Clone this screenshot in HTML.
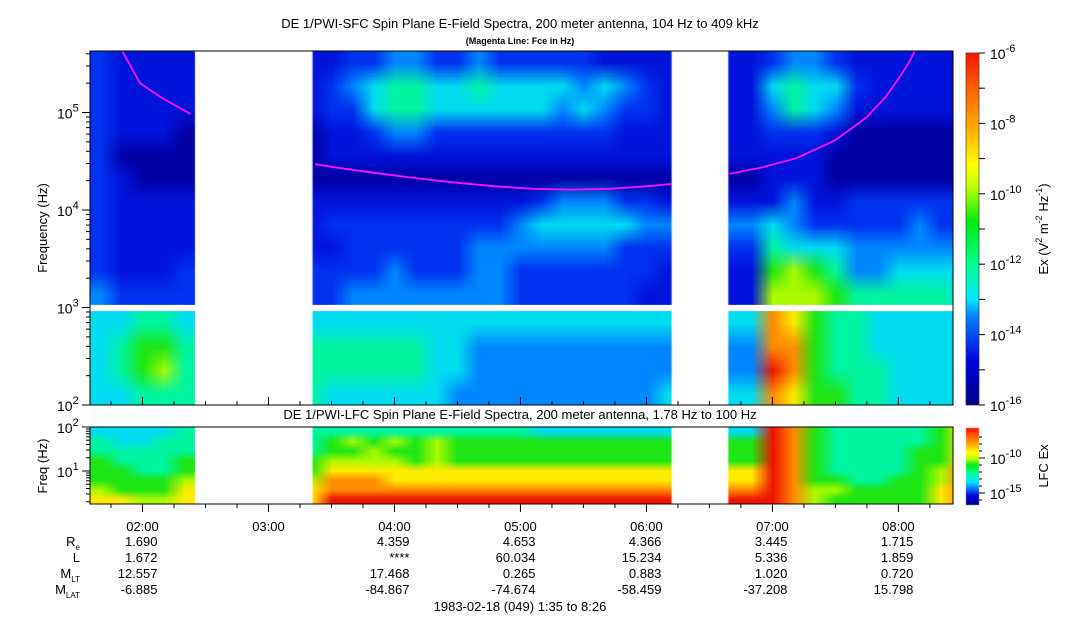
<!DOCTYPE html>
<html><head><meta charset="utf-8">
<style>
body{margin:0;background:#fff;width:1083px;height:620px;overflow:hidden;position:relative;font-family:"Liberation Sans",sans-serif;}
canvas{position:absolute;left:0;top:0;}
svg{position:absolute;left:0;top:0;}
</style></head>
<body>
<canvas id="cv" width="1083" height="620"></canvas>
<svg id="sv" width="1083" height="620" font-family="Liberation Sans, sans-serif"></svg>
<script>
// ---- data ----
const timeStart = 1 + 35/60, timeEnd = 8 + 26/60;
const colMinutes = 10;
// SFC upper rows (409 kHz -> 1 kHz), 41 columns of 10 min, '.' = data gap
const sfcUpper = [
"21111......12233223222221111....23321111112",
"21111......23455445444434321....45442111112",
"21111......22455444444343221....35431111112",
"21110......11233222222222111....22210000003",
"20000......11111111111111111....11100000003",
"21000......00000000000000000....11100000004",
"21111......11111111112333221....13112222225",
"21111......22222222234444433....43222223226",
"21111......12222223333333222....54443333336",
"21112......22232223322222221....67653344446",
"32222......23333333322222211....77765555547"
];
// SFC lower rows (1 kHz -> 100 Hz)
const sfcLower = [
"44554......44444444444444444....98655444445",
"45665......55555443333333333....99655444446",
"45675......55555443333333333....a9655544446",
"44555......44444433333333334....98665544446"
];
// LFC rows (100 Hz -> 1.78 Hz)
const lfcRows = [
"44445......55555555554444444....a965555568",
"54455......67676766666666666....a965555568",
"55555......66766766666666666....a965555668",
"65556......77776766666666666....a965555668",
"66556......88888888888888888....a965555679",
"66667......99988888888888888....a966556679",
"76668......99999999999999999....a977666689",
"88778......aaaaaaaaaaaaaaaaa....a976666689"
];
const gapStarts = [2 + 25/60, 6 + 12/60];
const gapEnds = [3 + 21/60, 6 + 39/60];
// Fce curves: times (h) and freqs (Hz)
const fceT1 = [1.84, 1.98, 2.14, 2.26, 2.38];
const fceF1 = [426000, 200000, 145000, 118000, 97000];
const fceT2 = [3.37, 3.6, 3.9, 4.2, 4.5, 4.8, 5.1, 5.4, 5.7, 6.0, 6.2];
const fceF2 = [29500, 26500, 23500, 21000, 19000, 17500, 16500, 16200, 16500, 17500, 18500];
const fceT3 = [6.66, 6.9, 7.19, 7.5, 7.75, 7.9, 8.01, 8.08, 8.13];
const fceF3 = [23500, 27000, 34000, 52000, 90000, 145000, 231000, 320000, 426000];
const tickLabels = ["02:00","03:00","04:00","05:00","06:00","07:00","08:00"];
const tickHours = [2,3,4,5,6,7,8];
const rowNames = ["Re","L","MLT","MLAT"];
const valHours = [2,4,5,6,7,8];
const reVals = ["1.690","4.359","4.653","4.366","3.445","1.715"];
const lVals = ["1.672","****","60.034","15.234","5.336","1.859"];
const mltVals = ["12.557","17.468","0.265","0.883","1.020","0.720"];
const mlatVals = ["-6.885","-84.867","-74.674","-58.459","-37.208","15.798"];

// ---- geometry ----
const X0=90, X1=953;
const xT = t => X0 + (t-timeStart)/(timeEnd-timeStart)*(X1-X0);
const TOP=51, BOT=405;
const yF = f => 307.5 - (Math.log10(f)-3)*97.5;
const cmap = {"0":[0,0,165],"1":[0,20,220],"2":[0,50,240],"3":[0,135,255],"4":[0,220,240],"5":[0,245,160],"6":[30,230,20],"7":[170,250,0],"8":[255,235,0],"9":[255,140,0],"a":[240,20,0]};

const cv=document.getElementById('cv'), ctx=cv.getContext('2d');
function drawGrid(rows, x0, x1, y0, y1){
  const nc=rows[0].length, nr=rows.length;
  const off=document.createElement('canvas'); off.width=nc; off.height=nr;
  const oc=off.getContext('2d'); const im=oc.createImageData(nc,nr);
  for(let r=0;r<nr;r++){let last="1";for(let c=0;c<nc;c++){let ch=rows[r][c]; if(ch==='.')ch=last; else last=ch;
    const col=cmap[ch]; const i=(r*nc+c)*4; im.data[i]=col[0];im.data[i+1]=col[1];im.data[i+2]=col[2];im.data[i+3]=255;}}
  oc.putImageData(im,0,0);
  ctx.imageSmoothingEnabled=true;
  const xa=xT(timeStart), xb=xT(timeStart+nc*colMinutes/60);
  ctx.save(); ctx.beginPath(); ctx.rect(x0,y0,x1-x0,y1-y0); ctx.clip();
  ctx.drawImage(off,0,0,nc,nr,xa,y0,xb-xa,y1-y0); ctx.restore();
}
drawGrid(sfcUpper,X0,X1,TOP,305);
drawGrid(sfcLower,X0,X1,311,BOT);
drawGrid(lfcRows,X0,X1,427,504);
// gaps
ctx.fillStyle='#fff';
for(let g=0;g<gapStarts.length;g++){
  ctx.fillRect(xT(gapStarts[g]),TOP,xT(gapEnds[g])-xT(gapStarts[g]),BOT-TOP);
  ctx.fillRect(xT(gapStarts[g]),427,xT(gapEnds[g])-xT(gapStarts[g]),77);
}
// colorbars
let gr=ctx.createLinearGradient(0,405,0,53);
[[0,'#00008c'],[0.12,'#0000e0'],[0.25,'#0080ff'],[0.3,'#00e8ff'],[0.4,'#00ff90'],[0.52,'#00ee10'],[0.62,'#c0ff00'],[0.68,'#ffff00'],[0.78,'#ffb000'],[0.9,'#ff6000'],[1,'#ff1000']].forEach(s=>gr.addColorStop(s[0],s[1]));
ctx.fillStyle=gr; ctx.fillRect(966,53,13,352);
let gr2=ctx.createLinearGradient(0,505,0,428);
[[0,'#00008c'],[0.12,'#0000e0'],[0.22,'#0080ff'],[0.3,'#00e8ff'],[0.42,'#00ff90'],[0.52,'#00ee10'],[0.6,'#c0ff00'],[0.68,'#ffff00'],[0.8,'#ffa000'],[1,'#ff1000']].forEach(s=>gr2.addColorStop(s[0],s[1]));
ctx.fillStyle=gr2; ctx.fillRect(966,428,13,77);

// ---- svg overlay ----
const sv=document.getElementById('sv'); const NS='http://www.w3.org/2000/svg';
function el(tag,attrs,text){const e=document.createElementNS(NS,tag);for(const k in attrs)e.setAttribute(k,attrs[k]);if(text!==undefined)e.textContent=text;sv.appendChild(e);return e;}
el('rect',{x:X0,y:305,width:X1-X0,height:6,fill:'#fff'});
[[fceT1,fceF1],[fceT2,fceF2],[fceT3,fceF3]].forEach(p=>{
  const pts=p[0].map((t,i)=>xT(t).toFixed(1)+','+Math.max(TOP,yF(p[1][i])).toFixed(1)).join(' ');
  const l=el('polyline',{points:pts,fill:'none',stroke:'#ff10ff','stroke-width':1.8,'stroke-linejoin':'round'});
  
  
});
const f1=el('rect',{x:X0,y:TOP,width:X1-X0,height:BOT-TOP,fill:'none',stroke:'#000','stroke-width':1});

const f2=el('rect',{x:X0,y:427,width:X1-X0,height:77,fill:'none',stroke:'#000','stroke-width':1});

const t1=el('text',{x:520,y:28,'font-size':13,'text-anchor':'middle'},'DE 1/PWI-SFC  Spin Plane E-Field Spectra, 200 meter antenna, 104 Hz to 409 kHz');

const t2=el('text',{x:520,y:44,'font-size':9,'font-weight':'bold','text-anchor':'middle'},'(Magenta Line: Fce in Hz)');

const t3=el('text',{x:520,y:419,'font-size':13,'text-anchor':'middle'},'DE 1/PWI-LFC  Spin Plane E-Field Spectra, 200 meter antenna, 1.78 Hz to 100 Hz');

for(let d=2;d<=5;d++){
  for(let m=1;m<10;m++){const f=m*Math.pow(10,d);const y=yF(f);if(y<TOP)continue;
    el('line',{x1:X0-(m===1?8:4),x2:X0,y1:y,y2:y,stroke:'#000'});}
  const y=yF(Math.pow(10,d));
  const tx=el('text',{x:57,y:y+6,'font-size':14},'10');
  const sp=document.createElementNS(NS,'tspan');sp.setAttribute('dy',-7);sp.setAttribute('font-size',11);sp.textContent=d;tx.appendChild(sp);
  
}
const yt=el('text',{transform:'translate(47,228) rotate(-90)','font-size':13,'text-anchor':'middle'},'Frequency (Hz)');

const yL = f => 504 - (Math.log10(f)-Math.log10(1.78))/(2-Math.log10(1.78))*77;
[2,3,4,5,6,7,8,9,10,20,30,40,50,60,70,80,90,100].forEach(f=>{const y=yL(f);el('line',{x1:X0-(f===10||f===100?8:4),x2:X0,y1:y,y2:y,stroke:'#000'});});
[[1,10],[2,100]].forEach(a=>{const y=yL(a[1]);const tx=el('text',{x:57,y:y+6,'font-size':14},'10');
  const sp=document.createElementNS(NS,'tspan');sp.setAttribute('dy',-7);sp.setAttribute('font-size',11);sp.textContent=a[0];tx.appendChild(sp);
  });
const yt2=el('text',{transform:'translate(47,466) rotate(-90)','font-size':13,'text-anchor':'middle'},'Freq (Hz)');

for(let q=Math.ceil(timeStart*4);q<=Math.floor(timeEnd*4);q++){const x=xT(q/4);const big=q%4===0;
  el('line',{x1:x,x2:x,y1:504,y2:504+(big?8:4),stroke:'#000'});
  el('line',{x1:x,x2:x,y1:BOT,y2:BOT-(big?8:4),stroke:'#000'});}
tickLabels.forEach((s,i)=>{const t=el('text',{x:xT(tickHours[i]),y:531,'font-size':13,'text-anchor':'middle'},s);
  });
const rowsY=[546,562,578,594];
const sub=[['R','e'],['L',''],['M','LT'],['M','LAT']];
sub.forEach((s,i)=>{const t=el('text',{x:80,y:rowsY[i],'font-size':13,'text-anchor':'end'},s[0]);
  if(s[1]){const sp=document.createElementNS(NS,'tspan');sp.setAttribute('dy',4);sp.setAttribute('font-size',8);sp.textContent=s[1];t.appendChild(sp);}
  });
[reVals,lVals,mltVals,mlatVals].forEach((arr,i)=>{arr.forEach((v,j)=>{
  const t=el('text',{x:xT(valHours[j])+15,y:rowsY[i],'font-size':13,'text-anchor':'end'},v);
  });});
const dt=el('text',{x:520,y:611,'font-size':13,'text-anchor':'middle'},'1983-02-18 (049) 1:35 to 8:26');

el('rect',{x:966,y:53,width:13,height:352,fill:'none',stroke:'#000','stroke-width':0.5});
for(let e=-16;e<=-6;e++){const y=405-(e+16)*35.2;el('line',{x1:979,x2:985,y1:y,y2:y,stroke:'#000'});
  if(e%2===0){const t=el('text',{x:990,y:y+6,'font-size':14},'10');const sp=document.createElementNS(NS,'tspan');sp.setAttribute('dy',-7);sp.setAttribute('font-size',11);sp.textContent=e;t.appendChild(sp);
    }}
const cbt=el('text',{transform:'translate(1048,229) rotate(-90)','font-size':13,'text-anchor':'middle'},'');
cbt.innerHTML='Ex (V<tspan dy="-6" font-size="9">2</tspan><tspan dy="6"> m</tspan><tspan dy="-6" font-size="9">-2</tspan><tspan dy="6"> Hz</tspan><tspan dy="-6" font-size="9">-1</tspan><tspan dy="6">)</tspan>';

for(let e=-16;e<=-7;e++){const y=493+(e+15)*(-7);if(y<428||y>505)continue;el('line',{x1:979,x2:(e%5===0?985:982),y1:y,y2:y,stroke:'#000'});}
[[-10,458],[-15,493]].forEach(a=>{const t=el('text',{x:990,y:a[1]+6,'font-size':14},'10');const sp=document.createElementNS(NS,'tspan');sp.setAttribute('dy',-7);sp.setAttribute('font-size',11);sp.textContent=a[0];t.appendChild(sp);
  });
const cbt2=el('text',{transform:'translate(1048,466) rotate(-90)','font-size':13,'text-anchor':'middle'},'LFC Ex');

</script>
</body></html>
